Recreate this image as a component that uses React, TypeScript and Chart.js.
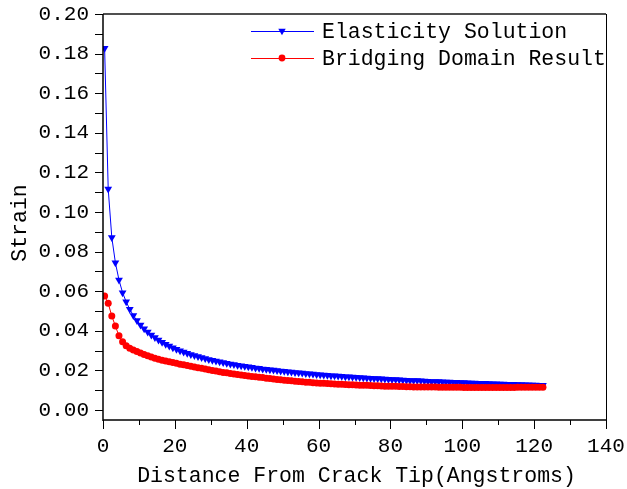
import React, { useEffect, useRef } from 'react';
import { Chart, registerables } from 'chart.js';

Chart.register(...registerables);

const distance = [
  0.45, 1.45, 2.45, 3.45, 4.45, 5.45, 6.45, 7.45, 8.45, 9.45,
  10.45, 11.45, 12.45, 13.45, 14.45, 15.45, 16.45, 17.45, 18.45, 19.45,
  20.45, 21.45, 22.45, 23.45, 24.45, 25.45, 26.45, 27.45, 28.45, 29.45,
  30.45, 31.45, 32.45, 33.45, 34.45, 35.45, 36.45, 37.45, 38.45, 39.45,
  40.45, 41.45, 42.45, 43.45, 44.45, 45.45, 46.45, 47.45, 48.45, 49.45,
  50.45, 51.45, 52.45, 53.45, 54.45, 55.45, 56.45, 57.45, 58.45, 59.45,
  60.45, 61.45, 62.45, 63.45, 64.45, 65.45, 66.45, 67.45, 68.45, 69.45,
  70.45, 71.45, 72.45, 73.45, 74.45, 75.45, 76.45, 77.45, 78.45, 79.45,
  80.45, 81.45, 82.45, 83.45, 84.45, 85.45, 86.45, 87.45, 88.45, 89.45,
  90.45, 91.45, 92.45, 93.45, 94.45, 95.45, 96.45, 97.45, 98.45, 99.45,
  100.45, 101.45, 102.45, 103.45, 104.45, 105.45, 106.45, 107.45, 108.45, 109.45,
  110.45, 111.45, 112.45, 113.45, 114.45, 115.45, 116.45, 117.45, 118.45, 119.45,
  120.45, 121.45, 122.45,
];

const elasticity = [
  0.1827, 0.1116, 0.0872, 0.0744, 0.0657, 0.0593, 0.0547, 0.0509, 0.0478, 0.0452,
  0.0430, 0.0411, 0.0394, 0.0379, 0.0366, 0.0354, 0.0343, 0.0333, 0.0324, 0.0315,
  0.0307, 0.0300, 0.0293, 0.0287, 0.0281, 0.0276, 0.0270, 0.0265, 0.0261, 0.0256,
  0.0252, 0.0248, 0.0244, 0.0240, 0.0237, 0.0233, 0.0230, 0.0227, 0.0224, 0.0221,
  0.0219, 0.0216, 0.0213, 0.0211, 0.0208, 0.0206, 0.0204, 0.0202, 0.0200, 0.0198,
  0.0196, 0.0194, 0.0192, 0.0190, 0.0188, 0.0187, 0.0185, 0.0183, 0.0182, 0.0180,
  0.0179, 0.0177, 0.0176, 0.0174, 0.0173, 0.0172, 0.0171, 0.0169, 0.0168, 0.0167,
  0.0166, 0.0164, 0.0163, 0.0162, 0.0161, 0.0160, 0.0159, 0.0158, 0.0157, 0.0156,
  0.0155, 0.0154, 0.0153, 0.0152, 0.0151, 0.0150, 0.0149, 0.0149, 0.0148, 0.0147,
  0.0146, 0.0145, 0.0145, 0.0144, 0.0143, 0.0142, 0.0142, 0.0141, 0.0140, 0.0139,
  0.0139, 0.0138, 0.0137, 0.0137, 0.0136, 0.0135, 0.0135, 0.0134, 0.0133, 0.0133,
  0.0132, 0.0132, 0.0131, 0.0131, 0.0130, 0.0129, 0.0129, 0.0128, 0.0128, 0.0127,
  0.0127, 0.0126, 0.0126,
];

const bridging = [
  0.0576, 0.0539, 0.0475, 0.0424, 0.0375, 0.0345, 0.0325, 0.0312, 0.0303, 0.0296,
  0.0288, 0.0281, 0.0275, 0.0268, 0.0262, 0.0257, 0.0252, 0.0248, 0.0244, 0.0240,
  0.0236, 0.0232, 0.0229, 0.0225, 0.0221, 0.0218, 0.0214, 0.0211, 0.0207, 0.0204,
  0.0200, 0.0197, 0.0193, 0.0190, 0.0188, 0.0185, 0.0182, 0.0180, 0.0177, 0.0175,
  0.0172, 0.0170, 0.0168, 0.0166, 0.0164, 0.0161, 0.0159, 0.0157, 0.0155, 0.0153,
  0.0151, 0.0149, 0.0148, 0.0146, 0.0144, 0.0143, 0.0141, 0.0140, 0.0138, 0.0137,
  0.0136, 0.0135, 0.0134, 0.0133, 0.0132, 0.0131, 0.0130, 0.0129, 0.0128, 0.0128,
  0.0127, 0.0126, 0.0125, 0.0125, 0.0124, 0.0123, 0.0123, 0.0122, 0.0121, 0.0121,
  0.0120, 0.0120, 0.0119, 0.0119, 0.0118, 0.0118, 0.0117, 0.0117, 0.0117, 0.0116,
  0.0116, 0.0116, 0.0116, 0.0115, 0.0115, 0.0115, 0.0115, 0.0115, 0.0115, 0.0115,
  0.0114, 0.0114, 0.0114, 0.0114, 0.0114, 0.0114, 0.0114, 0.0114, 0.0114, 0.0114,
  0.0114, 0.0114, 0.0114, 0.0114, 0.0114, 0.0115, 0.0115, 0.0115, 0.0115, 0.0115,
  0.0115, 0.0115, 0.0115,
];

const seriesLabels = ['Elasticity Solution', 'Bridging Domain Result'];
const xTitle = 'Distance From Crack Tip(Angstroms)';
const yTitle = 'Strain';
const xMajorTicks = [0, 20, 40, 60, 80, 100, 120, 140];
const xMinorTicks = [10, 30, 50, 70, 90, 110, 130];
const yMajorTicks = [0, 0.02, 0.04, 0.06, 0.08, 0.1, 0.12, 0.14, 0.16, 0.18, 0.2];
const yMinorTicks = [0.01, 0.03, 0.05, 0.07, 0.09, 0.11, 0.13, 0.15, 0.17, 0.19];

const FONT = '"Liberation Mono", "Courier New", monospace';
const W = 627;
const H = 489;

const framePlugin = {
  id: 'originFrame',
  afterDraw(chart: any) {
    const ctx = chart.ctx;
    const { left, right, top, bottom } = chart.chartArea;
    const xs = chart.scales.x;
    const ys = chart.scales.y;
    ctx.save();
    // ticks
    ctx.strokeStyle = '#000';
    ctx.lineWidth = 1;
    ctx.beginPath();
    xMajorTicks.forEach((v) => {
      const px = Math.round(xs.getPixelForValue(v)) + 0.5;
      ctx.moveTo(px, bottom);
      ctx.lineTo(px, bottom + 9);
    });
    xMinorTicks.forEach((v) => {
      const px = Math.round(xs.getPixelForValue(v)) + 0.5;
      ctx.moveTo(px, bottom);
      ctx.lineTo(px, bottom + 5);
    });
    [...yMajorTicks, ...yMinorTicks].forEach((v) => {
      const py = Math.round(ys.getPixelForValue(v)) + 0.5;
      ctx.moveTo(left - 8, py);
      ctx.lineTo(left, py);
    });
    ctx.stroke();
    // frame
    ctx.strokeStyle = '#505050';
    ctx.lineWidth = 2;
    ctx.beginPath();
    ctx.moveTo(left, top);
    ctx.lineTo(right, top);
    ctx.stroke();
    ctx.strokeStyle = '#000';
    ctx.lineWidth = 1;
    ctx.beginPath();
    ctx.moveTo(right + 0.5, top);
    ctx.lineTo(right + 0.5, bottom);
    ctx.stroke();
    ctx.lineWidth = 1.5;
    ctx.beginPath();
    ctx.moveTo(left, top);
    ctx.lineTo(left, bottom + 1);
    ctx.moveTo(left, bottom);
    ctx.lineTo(right + 1, bottom);
    ctx.stroke();

    // axis titles
    ctx.fillStyle = '#000';
    ctx.font = '21.5px ' + FONT;
    ctx.textAlign = 'center';
    ctx.textBaseline = 'middle';
    ctx.fillText(xTitle, (left + right) / 2 + 2, 476);
    ctx.save();
    ctx.translate(20, (top + bottom) / 2 + 6);
    ctx.rotate(-Math.PI / 2);
    ctx.fillText(yTitle, 0, 0);
    ctx.restore();

    // legend
    const rows = [31, 58];
    chart.data.datasets.forEach((ds: any, i: number) => {
      const y = rows[i];
      ctx.strokeStyle = ds.borderColor;
      ctx.lineWidth = 1;
      ctx.beginPath();
      ctx.moveTo(251, y + 0.5);
      ctx.lineTo(314, y + 0.5);
      ctx.stroke();
      ctx.fillStyle = ds.borderColor;
      const mx = 282;
      if (ds.pointStyle === 'triangle') {
        const r = 4.3;
        ctx.beginPath();
        ctx.moveTo(mx, y + r);
        ctx.lineTo(mx - r * 0.866, y - r / 2);
        ctx.lineTo(mx + r * 0.866, y - r / 2);
        ctx.closePath();
        ctx.fill();
      } else {
        ctx.beginPath();
        ctx.arc(mx, y, 3.4, 0, Math.PI * 2);
        ctx.fill();
      }
      ctx.fillStyle = '#000';
      ctx.font = '21.5px ' + FONT;
      ctx.textAlign = 'left';
      ctx.textBaseline = 'middle';
      ctx.fillText(ds.label, 322, y + 1);
    });
    ctx.restore();
  },
};

const zeroPadding = (scale: any) => {
  scale.paddingTop = 0;
  scale.paddingBottom = 0;
  scale.paddingLeft = 0;
  scale.paddingRight = 0;
};

export default function App() {
  const ref = useRef<HTMLCanvasElement | null>(null);

  useEffect(() => {
    document.body.style.margin = '0';
    const canvas = ref.current;
    if (!canvas) return;
    const chart = new Chart(canvas, {
      type: 'line',
      data: {
        datasets: [
          {
            label: seriesLabels[0],
            data: distance.map((x, i) => ({ x, y: elasticity[i] })),
            borderColor: '#0000ff',
            backgroundColor: '#0000ff',
            borderWidth: 1,
            pointStyle: 'triangle',
            rotation: 180,
            pointRadius: 4.5,
            pointBorderWidth: 0,
            pointBackgroundColor: '#0000ff',
            tension: 0,
            order: 1,
          },
          {
            label: seriesLabels[1],
            data: distance.map((x, i) => ({ x, y: bridging[i] })),
            borderColor: '#ff0000',
            backgroundColor: '#ff0000',
            borderWidth: 1,
            pointStyle: 'circle',
            pointRadius: 3.5,
            pointBorderWidth: 0,
            pointBackgroundColor: '#ff0000',
            tension: 0,
            order: 0,
          },
        ],
      },
      options: {
        responsive: false,
        animation: false,
        devicePixelRatio: 1,
        layout: { padding: { top: 14, right: 21, left: 0, bottom: 0 } },
        plugins: {
          legend: { display: false },
          tooltip: { enabled: false },
        },
        scales: {
          x: {
            type: 'linear',
            min: 0,
            max: 140,
            grid: { display: false, drawTicks: false },
            border: { display: false },
            afterBuildTicks: (scale: any) => {
              scale.ticks = xMajorTicks.map((v) => ({ value: v }));
            },
            afterFit: (scale: any) => {
              scale.height = 69;
              zeroPadding(scale);
            },
            ticks: {
              color: '#000',
              padding: 14,
              maxRotation: 0,
              autoSkip: false,
              font: { family: FONT, size: 21 },
              callback: (v: any) => String(v),
            },
          },
          y: {
            type: 'linear',
            min: -0.005,
            max: 0.2,
            grid: { display: false, drawTicks: false },
            border: { display: false },
            afterBuildTicks: (scale: any) => {
              scale.ticks = yMajorTicks.map((v) => ({ value: v }));
            },
            afterFit: (scale: any) => {
              scale.width = 103;
              zeroPadding(scale);
            },
            ticks: {
              color: '#000',
              padding: 14,
              autoSkip: false,
              font: { family: FONT, size: 21 },
              callback: (v: any) => Number(v).toFixed(2),
            },
          },
        },
      },
      plugins: [framePlugin],
    } as any);
    return () => chart.destroy();
  }, []);

  return <canvas ref={ref} width={W} height={H} style={{ display: 'block', width: W, height: H }} />;
}
